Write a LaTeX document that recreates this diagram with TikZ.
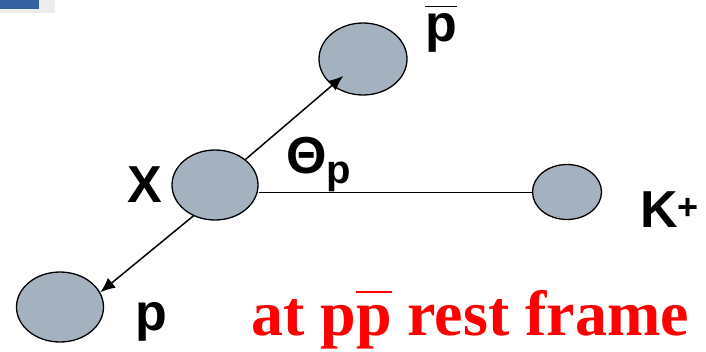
\documentclass[tikz,border=0pt]{standalone}
\usepackage{fontspec}
\setmainfont{Liberation Sans}
\newfontfamily\serifred{Liberation Serif}
\usetikzlibrary{arrows.meta,positioning,shapes.geometric}
\definecolor{blobgray}{RGB}{164,178,192}
\definecolor{slideblue}{RGB}{52,98,160}
% p with a bar over it: #1 raise of the bar, #2 its thickness
\newcommand{\barp}[2]{\setbox0\hbox{p}\rlap{\rule[#1]{\wd0}{#2}}p}

\begin{document}
\begin{tikzpicture}[x=1pt, y=-1pt,
     blob/.style={ellipse, draw=black, line width=1.3pt, fill=blobgray, inner sep=0pt},
     lbl/.style={inner sep=0pt, font=\bfseries\fontsize{52}{60}\selectfont},
     arr/.style={-{Latex[length=15pt,width=12.5pt]}, line width=1.5pt}]
   \useasboundingbox (0,0) rectangle (706,351);
   \fill[black!7] (0,0) rectangle (55,13);
   \fill[slideblue] (0,0) rectangle (39,9);

   \node[blob, minimum width=86pt, minimum height=70pt] (X) at (215,185) {};
   \node[blob, minimum width=87pt, minimum height=70pt] (p) at (60,307) {};
   \node[blob, minimum width=88pt, minimum height=72pt] (pb) at (363,59) {};
   \node[blob, minimum width=69pt, minimum height=55pt] (K) at (567,192) {};

   \draw[line width=1pt] (K.west) -- (K.west -| X.east);
   \draw[arr, shorten >=26pt] (X.40) -- (pb.center);
   \draw[arr] (X.235) -- (p.20);

   \node[lbl, left=9pt of X] (lx) {X};
   \node[lbl, anchor=base west] (lp) at (135,330) {p};
   \node[lbl, anchor=base west] (lpb) at (425,41) {\barp{34pt}{1.5pt}};
   \node[lbl, anchor=base west] (lk) at (640,227) {K\raisebox{8pt}{\fontsize{36}{36}\selectfont +}};
   \node[lbl, anchor=base west] (lth) at (286,173) {Θ\raisebox{-10pt}{\fontsize{40}{40}\selectfont p}};
   \node[anchor=base, text=red, inner sep=0pt, font=\serifred\bfseries\fontsize{64}{70}\selectfont]
     (rest) at (470,335) {at p\barp{42pt}{1.6pt} rest frame};
  \end{tikzpicture}
\end{document}
